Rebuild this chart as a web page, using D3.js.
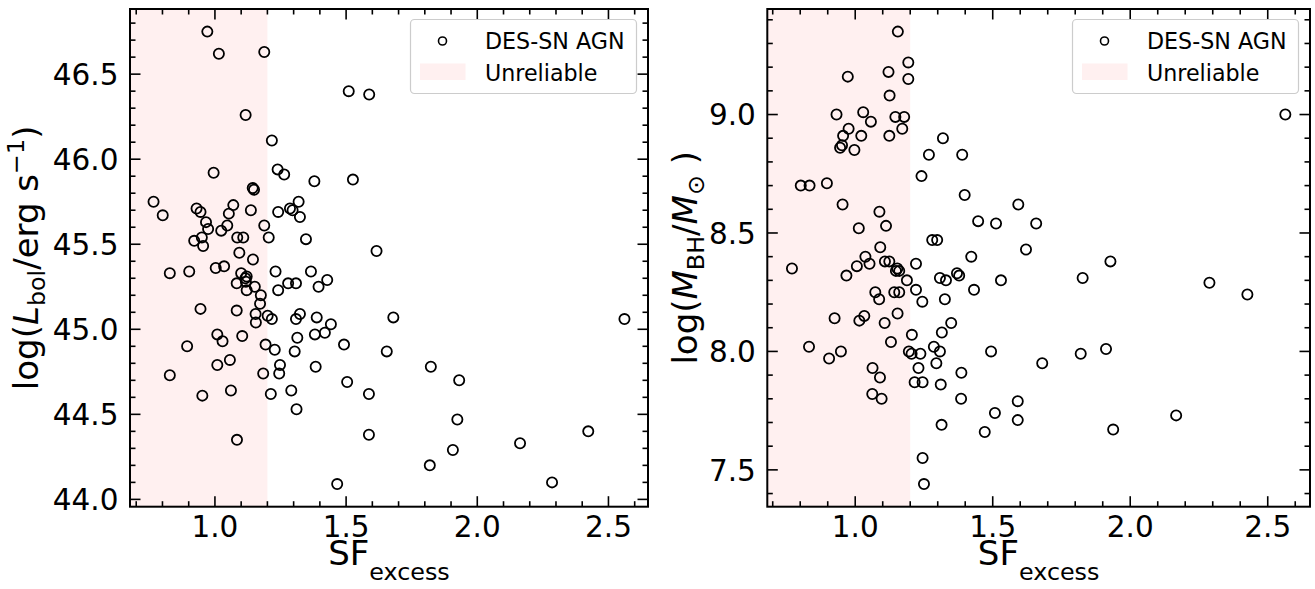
<!DOCTYPE html>
<html>
<head>
<meta charset="utf-8">
<script src="https://cdn.jsdelivr.net/npm/d3@7"></script>
<style>
  body { margin: 0; background: #fff; }
  svg { display: block; }
  text { font-family: "DejaVu Sans", sans-serif; fill: #000; }
</style>
</head>
<body>
<svg id="fig" width="1315" height="589"></svg>
<script>
// Structure-function excess vs bolometric luminosity
const sfLbol = [0.971,1.015,1.188,1.510,1.588,1.117,1.217,1.239,1.264,1.379,1.526,0.995,1.144,1.149,0.766,0.801,0.930,0.945,1.070,1.053,1.137,1.241,1.286,1.296,1.319,1.324,0.966,0.974,1.047,1.024,1.188,1.205,0.921,0.950,0.955,1.085,1.108,1.347,1.093,1.145,1.616,0.828,0.902,1.003,1.035,1.100,1.121,1.116,1.083,1.118,1.152,1.121,1.175,1.172,1.155,1.156,1.201,1.217,1.231,1.241,1.279,1.309,1.366,1.395,1.428,0.945,1.083,1.309,1.324,1.388,1.442,1.680,1.009,1.029,1.104,1.193,1.228,1.314,1.304,1.381,1.419,1.492,1.655,0.894,1.057,1.009,1.248,1.245,1.184,1.384,0.828,1.504,0.952,1.061,1.213,1.291,1.587,1.311,1.587,1.084,1.466,2.561,1.823,1.931,1.924,2.423,2.163,1.907,1.819,2.285];
const logLbol = [46.75,46.62,46.63,46.40,46.38,46.26,46.11,45.94,45.91,45.87,45.88,45.92,45.83,45.82,45.75,45.67,45.71,45.69,45.73,45.68,45.70,45.69,45.71,45.70,45.75,45.66,45.63,45.59,45.61,45.58,45.61,45.54,45.52,45.54,45.49,45.54,45.54,45.53,45.45,45.41,45.46,45.33,45.34,45.36,45.37,45.33,45.31,45.30,45.27,45.28,45.25,45.23,45.20,45.15,45.09,45.04,45.08,45.06,45.34,45.23,45.27,45.27,45.34,45.25,45.29,45.12,45.11,45.06,45.09,45.07,45.03,45.07,44.97,44.93,44.96,44.91,44.88,44.95,44.87,44.97,44.98,44.91,44.87,44.90,44.82,44.79,44.79,44.74,44.74,44.78,44.73,44.69,44.61,44.64,44.62,44.64,44.62,44.53,44.38,44.35,44.09,45.06,44.78,44.70,44.47,44.40,44.33,44.29,44.20,44.10];

// Structure-function excess vs black hole mass
const sfMbh = [1.155,1.193,1.121,1.193,0.973,1.125,0.932,1.029,1.057,0.976,1.146,1.178,1.171,0.956,1.022,1.124,0.952,0.945,0.997,1.319,1.268,1.389,1.241,0.802,0.834,0.897,1.398,0.954,1.088,1.593,1.013,1.112,1.447,1.512,1.658,1.280,1.298,1.091,1.621,1.422,1.037,1.052,1.006,1.108,1.124,1.221,0.770,1.153,0.968,1.148,1.160,1.188,1.221,1.073,1.087,1.142,1.160,1.244,1.308,1.330,1.370,1.378,1.432,1.530,1.326,1.349,1.315,0.925,1.015,1.033,1.107,1.154,1.206,1.130,0.832,0.948,0.905,1.195,1.205,1.237,1.286,1.308,1.295,1.230,1.494,1.063,1.090,1.216,1.245,1.311,1.386,1.062,1.096,1.385,1.591,1.508,1.591,1.314,1.471,1.245,1.250,1.680,2.564,1.928,1.827,2.288,2.426,1.820,1.912,2.167,1.938];
const logMbh = [9.35,9.22,9.18,9.15,9.16,9.08,9.00,9.01,8.97,8.94,8.99,8.99,8.94,8.91,8.91,8.91,8.87,8.86,8.85,8.90,8.83,8.83,8.74,8.70,8.70,8.71,8.66,8.62,8.59,8.62,8.52,8.53,8.55,8.54,8.54,8.47,8.47,8.44,8.43,8.40,8.40,8.37,8.36,8.38,8.38,8.37,8.35,8.35,8.32,8.34,8.34,8.30,8.26,8.25,8.22,8.25,8.25,8.21,8.31,8.30,8.33,8.32,8.26,8.30,8.22,8.12,8.08,8.14,8.13,8.15,8.12,8.16,8.07,8.04,8.02,8.00,7.97,8.00,7.99,7.99,8.02,8.00,7.95,7.93,8.00,7.93,7.89,7.87,7.87,7.86,7.91,7.82,7.80,7.80,7.79,7.74,7.71,7.69,7.66,7.55,7.44,7.95,9.00,8.38,8.31,8.29,8.24,7.99,8.01,7.73,7.67];

const sfTicks = [1.0, 1.5, 2.0, 2.5];
const lbolTicks = [44.0, 44.5, 45.0, 45.5, 46.0, 46.5];
const mbhTicks = [7.5, 8.0, 8.5, 9.0];
const unreliableLimit = 1.2;
const legendLabels = ["DES-SN AGN", "Unreliable"];

const svg = d3.select("#fig");
const shadeColor = "#fff0f0";
const TICK_FS = 29.5, LABEL_FS = 34, LEGEND_FS = 22.2;

// matplotlib-style autoscale: data extent padded by 5% each side
function padded(values) {
  const [lo, hi] = d3.extent(values);
  const m = (hi - lo) * 0.05;
  return [lo - m, hi + m];
}

function drawPanel(cfg) {
  const { x0, x1, y0, y1, xs, ys, yTicks, yLabel, yLabelX } = cfg;
  const g = svg.append("g");
  const x = d3.scaleLinear().domain(padded(xs)).range([x0, x1]);
  const y = d3.scaleLinear().domain(padded(ys)).range([y1, y0]);
  const clipId = "clip" + Math.round(x0);
  g.append("clipPath").attr("id", clipId)
    .append("rect").attr("x", x0).attr("y", y0).attr("width", x1 - x0).attr("height", y1 - y0);

  // unreliable region
  g.append("rect")
    .attr("x", x0).attr("y", y0)
    .attr("width", x(unreliableLimit) - x0).attr("height", y1 - y0)
    .attr("fill", shadeColor);

  // points
  g.append("g").attr("clip-path", `url(#${clipId})`)
    .selectAll("circle").data(d3.zip(xs, ys)).join("circle")
    .attr("cx", d => x(d[0])).attr("cy", d => y(d[1]))
    .attr("r", 5.1).attr("fill", "none").attr("stroke", "#000").attr("stroke-width", 1.8);

  // ticks (inward, on all four sides)
  const minor = (dom) => d3.range(Math.ceil(dom[0] * 10 - 1e-9), Math.floor(dom[1] * 10 + 1e-9) + 1)
      .filter(i => i % 5 !== 0).map(i => i / 10);
  const xMinor = minor(x.domain()), yMinor = minor(y.domain());
  const tk = g.append("g").attr("stroke", "#000").attr("stroke-width", 1.6);
  const MAJ = 10.5, MIN = 5.5;
  sfTicks.forEach(v => {
    tk.append("line").attr("x1", x(v)).attr("x2", x(v)).attr("y1", y1).attr("y2", y1 - MAJ);
    tk.append("line").attr("x1", x(v)).attr("x2", x(v)).attr("y1", y0).attr("y2", y0 + MAJ);
  });
  xMinor.forEach(v => {
    tk.append("line").attr("x1", x(v)).attr("x2", x(v)).attr("y1", y1).attr("y2", y1 - MIN);
    tk.append("line").attr("x1", x(v)).attr("x2", x(v)).attr("y1", y0).attr("y2", y0 + MIN);
  });
  yTicks.forEach(v => {
    tk.append("line").attr("y1", y(v)).attr("y2", y(v)).attr("x1", x0).attr("x2", x0 + MAJ);
    tk.append("line").attr("y1", y(v)).attr("y2", y(v)).attr("x1", x1).attr("x2", x1 - MAJ);
  });
  yMinor.forEach(v => {
    tk.append("line").attr("y1", y(v)).attr("y2", y(v)).attr("x1", x0).attr("x2", x0 + MIN);
    tk.append("line").attr("y1", y(v)).attr("y2", y(v)).attr("x1", x1).attr("x2", x1 - MIN);
  });

  // frame
  g.append("rect").attr("x", x0).attr("y", y0).attr("width", x1 - x0).attr("height", y1 - y0)
    .attr("fill", "none").attr("stroke", "#000").attr("stroke-width", 2);

  // tick labels
  g.append("g").selectAll("text").data(sfTicks).join("text")
    .attr("x", d => x(d)).attr("y", y1 + 30.5).attr("text-anchor", "middle")
    .attr("font-size", TICK_FS).text(d => d.toFixed(1));
  g.append("g").selectAll("text").data(yTicks).join("text")
    .attr("x", x0 - 11.5).attr("y", d => y(d) + 0.3645 * TICK_FS).attr("text-anchor", "end")
    .attr("font-size", TICK_FS).text(d => d.toFixed(1));

  // x label: SF with "excess" subscript
  const xl = g.append("text").attr("x", (x0 + x1) / 2).attr("y", y1 + 58.5)
    .attr("text-anchor", "middle").attr("font-size", LABEL_FS);
  xl.append("tspan").text("SF");
  xl.append("tspan").attr("font-size", LABEL_FS * 0.7).attr("dy", 15).text("excess");

  // y label built from math-like pieces
  const yl = g.append("text")
    .attr("transform", `translate(${yLabelX},${(y0 + y1) / 2}) rotate(-90)`)
    .attr("text-anchor", "middle").attr("font-size", LABEL_FS);
  let shift = 0;
  yLabel.forEach(p => {
    const t = yl.append("tspan").text(p.t);
    if (p.italic) t.attr("font-style", "italic");
    const target = p.dy || 0;
    if (p.small) t.attr("font-size", LABEL_FS * 0.7);
    if (target !== shift) { t.attr("dy", target - shift); shift = target; }
  });

  // legend
  const lx = x1 - 11.5 - 226, ly = y0 + 10.5;
  const lg = g.append("g");
  lg.append("rect").attr("x", lx).attr("y", ly).attr("width", 226).attr("height", 74).attr("rx", 4)
    .attr("fill", "#fff").attr("fill-opacity", 0.8).attr("stroke", "#cccccc").attr("stroke-width", 1.2);
  lg.append("circle").attr("cx", lx + 32).attr("cy", ly + 21.5).attr("r", 4)
    .attr("fill", "none").attr("stroke", "#000").attr("stroke-width", 1.6);
  lg.append("rect").attr("x", lx + 9.5).attr("y", ly + 44).attr("width", 45.5).attr("height", 16.5)
    .attr("fill", shadeColor);
  lg.selectAll("text.lab").data(legendLabels).join("text").attr("class", "lab")
    .attr("x", lx + 74.5).attr("y", (d, i) => ly + 29 + i * 32.5)
    .attr("font-size", LEGEND_FS).text(d => d);
}

drawPanel({
  x0: 130, x1: 648, y0: 9, y1: 506.7,
  xs: sfLbol, ys: logLbol, yTicks: lbolTicks, yLabelX: 38,
  yLabel: [
    { t: "log(" }, { t: "L", italic: true }, { t: "bol", small: true, dy: 7 },
    { t: "/erg s" }, { t: "\u22121", small: true, dy: -14 }, { t: ")" }
  ]
});

drawPanel({
  x0: 767.3, x1: 1310, y0: 9, y1: 506.7,
  xs: sfMbh, ys: logMbh, yTicks: mbhTicks, yLabelX: 697,
  yLabel: [
    { t: "log(" }, { t: "M", italic: true }, { t: "BH", small: true, dy: 7 },
    { t: "/" }, { t: "M", italic: true }, { t: "\u2299", small: true, dy: 7 }, { t: " )" }
  ]
});
</script>
</body>
</html>
